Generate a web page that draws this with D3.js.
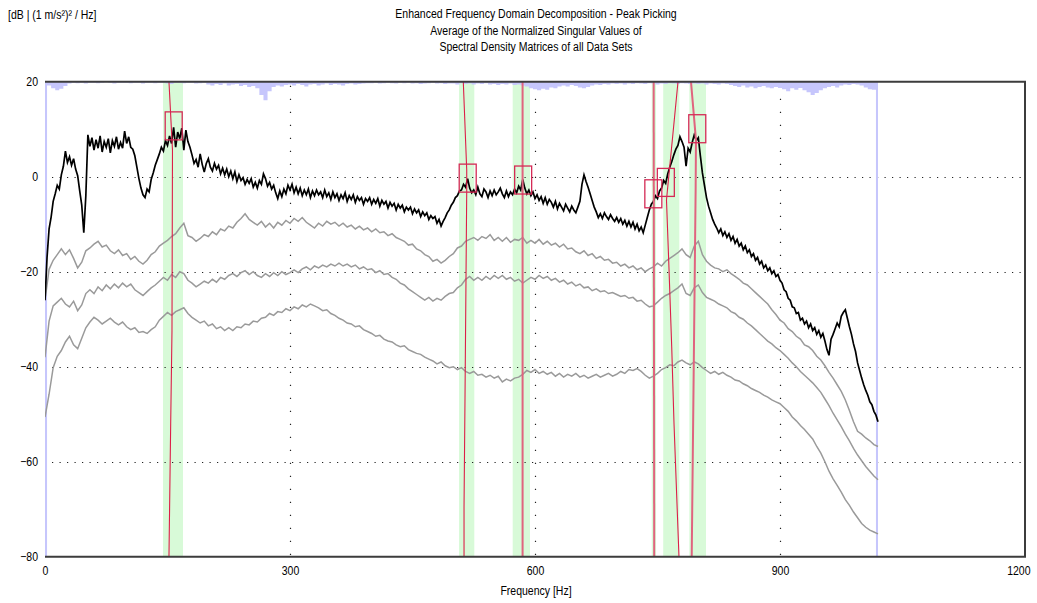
<!DOCTYPE html>
<html>
<head>
<meta charset="utf-8">
<script src="https://cdn.jsdelivr.net/npm/d3@7"></script>
<style>
  html, body { margin: 0; padding: 0; background: #fff; }
  svg { display: block; font-family: "Liberation Sans", Arial, sans-serif; }
</style>
</head>
<body>
<svg id="chart" width="1037" height="603"></svg>
<script>
// ---------------------------------------------------------------------------
// Data
// ---------------------------------------------------------------------------
const titleLines = [
  "Enhanced Frequency Domain Decomposition - Peak Picking",
  "Average of the Normalized Singular Values of",
  "Spectral Density Matrices of all Data Sets"
];
const yUnitLabel = "[dB | (1 m/s\u00B2)\u00B2 / Hz]";
const xAxisLabel = "Frequency [Hz]";

const yTicks = [20, 0, -20, -40, -60, -80];
const xTicks = [0, 300, 600, 900, 1200];

// frequency resolution of the series, starting at 0 Hz
const SV1_STEP = 2.5;   // 1st singular value
const SV_STEP = 5;      // lower singular values and coherence

// 1st singular value [dB]
const sv1 = [
  -26, -17, -11, -8.5, -5.2, -3.6, -1.8, -2.6, 0.4, 2.2, 5.4, 3.0, 4.2, 2.4, 3.8, 1.6, 0.2, -3.0, -6.0, -11.8,
  -4.0, 8.8, 6.4, 8.2, 5.6, 7.8, 6.0, 8.6, 5.2, 7.4, 6.2, 8.0, 5.0, 7.6, 6.4, 8.4, 5.8, 7.2, 6.0, 9.6,
  7.0, 8.4, 6.2, 5.8, 4.4, 2.0, -0.4, -2.4, -3.8, -4.4, -2.6, -3.2, -0.6, 0.8, 2.4, 3.6, 4.8, 6.2, 5.4, 7.6,
  6.6, 8.6, 7.0, 10.4, 6.2, 9.4, 8.0, 10.2, 5.6, 9.8, 7.4, 6.2, 4.6, 2.8, 3.6, 2.0, 4.8, 2.6, 1.0, 2.8,
  3.8, 2.0, 1.2, 2.8, 1.6, 2.4, 0.6, 1.8, 0.4, 1.6, 0.0, 1.2, -0.4, 1.0, -1.0, 0.4, -0.8, -0.2, -1.6, -0.6,
  -1.4, -0.4, -2.2, -1.2, -2.4, -0.8, -1.6, 0.6, -0.4, -2.0, -1.2, -2.6, -1.8, -3.4, -4.6, -3.0, -4.2, -2.6, -3.6, -1.8,
  -2.8, -1.6, -3.4, -2.2, -3.6, -2.4, -4.0, -2.8, -3.8, -2.6, -4.4, -3.0, -4.0, -2.8, -3.8, -3.2, -4.4, -2.8, -4.2, -3.4,
  -4.8, -3.2, -4.4, -3.6, -5.0, -3.8, -4.6, -3.4, -5.2, -4.0, -4.8, -3.8, -5.4, -4.2, -5.0, -4.4, -5.8, -4.6, -5.2, -4.4,
  -5.8, -4.8, -5.6, -4.6, -6.2, -5.0, -5.8, -5.2, -6.6, -5.4, -6.2, -5.6, -7.0, -5.8, -6.6, -6.0, -7.4, -6.4, -7.0, -6.4,
  -7.8, -6.8, -7.6, -7.0, -8.4, -7.4, -8.2, -7.6, -9.0, -8.2, -8.8, -8.4, -9.8, -9.0, -10.4, -9.4, -8.6, -7.6, -7.0, -6.0,
  -5.4, -4.4, -4.0, -3.0, -2.8, -1.6, -2.2, -0.4, -2.4, -3.4, -2.8, -3.8, -2.2, -3.6, -4.2, -2.6, -3.2, -4.4, -3.0, -4.0,
  -2.8, -3.8, -3.2, -2.4, -3.6, -4.4, -3.0, -4.2, -3.2, -3.8, -2.6, -3.4, -2.0, -2.8, -0.6, -2.4, -3.6, -2.8, -4.0, -3.2,
  -4.6, -3.8, -5.0, -4.2, -5.6, -4.4, -5.8, -4.8, -5.4, -6.4, -5.2, -6.8, -5.6, -6.4, -7.2, -5.8, -6.6, -7.4, -6.2, -7.0,
  -7.6, -6.4, -5.2, -1.6, 0.4, -1.0, -2.2, -3.6, -5.0, -6.4, -7.4, -8.6, -7.8, -8.8, -7.6, -8.4, -9.0, -8.0, -8.8, -9.4,
  -8.6, -9.6, -8.8, -10.0, -9.2, -10.4, -9.4, -10.6, -9.6, -11.0, -10.0, -11.4, -10.6, -11.8, -10.2, -8.6, -7.0, -5.8, -5.2, -4.0,
  -4.6, -3.0, -2.4, -0.8, -1.4, 0.6, 2.0, 3.2, 4.6, 5.8, 6.6, 8.4, 7.4, 6.2, 2.2, 6.0, 5.2, 7.2, 8.8, 7.6,
  8.2, 4.4, 0.8, -1.8, -4.4, -6.2, -7.6, -9.0, -10.0, -10.8, -11.8, -11.0, -12.4, -11.6, -12.8, -12.0, -13.4, -12.6, -14.0, -13.2,
  -14.6, -14.0, -15.4, -14.6, -16.0, -15.4, -16.8, -16.2, -17.6, -17.0, -18.4, -17.8, -19.2, -18.6, -19.8, -19.2, -20.4, -19.8, -21.0, -20.6,
  -21.8, -22.4, -23.8, -24.2, -25.6, -26.0, -27.4, -27.6, -28.8, -28.6, -30.2, -29.8, -31.0, -30.4, -31.8, -31.0, -32.4, -31.8, -33.2, -32.4,
  -33.8, -33.0, -34.6, -36.4, -37.6, -34.2, -33.2, -32.0, -30.8, -31.6, -29.4, -28.6, -28.0, -29.8, -31.6, -33.2, -35.2, -36.8, -39.2, -40.8,
  -42.4, -43.8, -45.0, -46.0, -47.4, -48.0, -49.4, -50.2, -51.6
];

// 2nd singular value [dB]
const sv2 = [
  -26, -19.5, -17.6, -16.4, -15.2, -16.4, -15.4, -17.2, -19.2, -18.0, -15.6, -15.0, -14.2, -13.6, -14.8, -14.4, -15.6, -16.2, -15.4, -16.6,
  -16.2, -17.4, -16.8, -17.8, -18.4, -17.6, -16.4, -15.8, -14.6, -14.0, -13.4, -12.6, -12.0, -10.8, -9.8, -12.4, -12.8, -13.6, -13.0, -12.2,
  -12.6, -11.6, -12.2, -11.0, -11.4, -10.4, -10.8, -9.6, -8.8, -7.8, -9.0, -9.6, -10.2, -9.4, -10.6, -9.8, -10.8, -9.6, -10.2, -9.2,
  -9.8, -8.8, -9.4, -8.6, -9.6, -10.2, -10.8, -9.8, -10.4, -9.4, -10.0, -9.6, -10.4, -9.8, -10.6, -10.2, -11.0, -10.4, -11.2, -10.8,
  -11.6, -11.0, -11.8, -11.6, -12.4, -12.0, -12.8, -13.2, -13.6, -14.4, -14.2, -15.2, -15.6, -16.4, -16.8, -17.8, -17.4, -18.2, -17.6, -16.8,
  -16.2, -15.0, -14.6, -13.6, -13.2, -12.8, -13.4, -12.6, -13.0, -12.2, -13.4, -12.8, -13.6, -12.8, -13.8, -13.2, -13.4, -12.8, -14.0, -13.4,
  -14.0, -13.2, -14.2, -13.6, -14.4, -14.0, -14.8, -14.2, -15.2, -15.0, -15.8, -16.2, -15.6, -16.6, -16.2, -17.2, -16.8, -17.6, -17.4, -18.2,
  -18.0, -18.8, -18.4, -19.2, -18.8, -19.6, -19.2, -20.0, -19.4, -19.0, -18.2, -18.8, -17.8, -17.2, -16.6, -16.0, -15.2, -16.4, -17.0, -14.6,
  -13.6, -16.4, -17.8, -18.6, -19.2, -19.4, -20.0, -19.6, -20.4, -21.0, -21.6, -22.4, -22.8, -23.6, -24.4, -25.2, -26.0, -26.8, -28.0, -29.0,
  -30.2, -30.8, -32.0, -32.6, -33.6, -34.2, -35.4, -35.8, -36.6, -37.8, -38.6, -39.8, -41.2, -42.4, -43.8, -45.2, -47.0, -49.2, -51.6, -53.6,
  -54.2, -55.0, -55.6, -56.4, -56.8
];

// 3rd singular value [dB]
const sv3 = [
  -38.0, -30.4, -27.2, -26.4, -25.6, -26.8, -27.4, -26.2, -28.2, -27.0, -24.6, -23.8, -24.6, -23.2, -24.0, -22.8, -23.6, -22.6, -23.4, -22.4,
  -23.2, -22.6, -23.8, -24.4, -25.0, -24.2, -23.4, -22.8, -22.0, -21.2, -21.8, -20.6, -21.2, -20.0, -20.4, -21.8, -22.4, -23.2, -22.6, -22.0,
  -22.4, -21.6, -22.2, -21.2, -21.6, -20.8, -20.4, -21.0, -20.2, -19.8, -20.6, -20.0, -20.8, -21.2, -20.4, -21.0, -20.2, -20.8, -20.0, -20.6,
  -20.2, -19.6, -20.2, -19.4, -19.0, -19.6, -18.8, -19.2, -18.6, -19.0, -18.4, -18.8, -18.2, -18.8, -18.4, -19.0, -18.6, -19.4, -19.0, -19.6,
  -19.4, -20.2, -19.8, -20.6, -20.4, -21.2, -21.6, -22.4, -22.8, -23.6, -24.2, -24.8, -25.4, -26.0, -25.4, -26.2, -25.6, -26.0, -25.2, -24.6,
  -24.4, -23.4, -22.8, -21.6, -21.0, -21.8, -21.2, -21.8, -21.0, -21.6, -20.8, -21.4, -20.8, -21.6, -21.2, -22.0, -21.6, -22.4, -21.8, -21.2,
  -21.6, -20.8, -21.4, -21.0, -21.8, -21.4, -22.2, -21.8, -22.6, -22.2, -23.0, -22.6, -23.4, -23.2, -24.0, -23.6, -24.2, -24.0, -24.6, -24.4,
  -24.8, -25.2, -25.0, -25.6, -25.4, -26.2, -26.0, -26.8, -27.4, -27.2, -26.4, -25.6, -25.0, -24.6, -24.0, -23.4, -22.6, -24.6, -25.0, -23.4,
  -22.8, -24.4, -25.4, -25.8, -26.2, -26.8, -27.2, -27.6, -28.4, -28.8, -29.6, -30.0, -30.8, -31.4, -32.2, -33.0, -33.8, -34.6, -35.2, -36.0,
  -36.6, -37.4, -38.2, -39.2, -40.0, -41.0, -41.8, -42.6, -43.4, -44.4, -45.4, -46.8, -48.2, -49.8, -51.2, -52.6, -54.2, -55.6, -57.2, -58.6,
  -59.8, -61.0, -62.0, -63.0, -63.8
];

// 4th singular value [dB]
const sv4 = [
  -50.6, -45.8, -40.2, -37.8, -36.6, -34.8, -33.6, -35.4, -36.2, -34.0, -31.8, -30.6, -29.6, -30.2, -31.0, -30.4, -29.8, -30.6, -31.2, -30.6,
  -31.6, -32.2, -31.8, -32.8, -32.6, -33.0, -32.2, -31.6, -30.2, -29.4, -28.6, -29.2, -28.4, -28.0, -27.6, -28.8, -29.6, -30.2, -30.8, -30.4,
  -31.4, -31.0, -32.0, -31.6, -32.4, -31.8, -32.4, -31.6, -31.8, -31.0, -31.2, -30.4, -30.6, -29.8, -29.6, -28.8, -29.2, -28.4, -28.6, -27.8,
  -28.2, -27.4, -27.8, -27.0, -27.4, -26.8, -27.2, -27.6, -28.2, -28.0, -28.8, -29.2, -29.8, -30.2, -30.8, -31.0, -31.6, -31.4, -32.2, -32.6,
  -33.0, -33.6, -33.4, -34.2, -34.6, -34.8, -35.4, -35.8, -35.6, -36.4, -36.8, -37.2, -37.4, -38.0, -38.4, -38.8, -39.4, -39.0, -39.8, -40.2,
  -40.0, -40.6, -40.2, -41.0, -41.4, -41.0, -41.8, -41.6, -42.2, -41.8, -42.4, -42.0, -43.2, -42.6, -43.0, -42.4, -42.2, -41.6, -40.8, -41.2,
  -40.6, -41.4, -41.0, -41.6, -41.2, -42.0, -41.4, -42.2, -41.6, -42.0, -41.4, -42.2, -41.8, -42.4, -42.0, -41.6, -42.2, -41.8, -41.4, -42.0,
  -41.6, -41.0, -41.4, -40.6, -40.8, -40.4, -41.0, -41.8, -42.4, -42.0, -41.4, -40.6, -40.2, -39.6, -39.8, -39.0, -38.6, -39.2, -39.6, -39.0,
  -39.4, -40.2, -40.8, -41.4, -41.0, -41.6, -41.2, -41.8, -42.2, -42.8, -43.0, -43.6, -44.0, -44.6, -45.0, -45.4, -46.0, -46.4, -47.0, -47.4,
  -47.8, -48.6, -49.4, -50.6, -51.4, -52.4, -53.2, -54.2, -55.2, -56.8, -58.2, -60.0, -62.0, -63.6, -65.0, -66.4, -68.0, -69.2, -70.6, -71.8,
  -73.0, -73.8, -74.4, -74.8, -75.2
];

// coherence indicator shown as the shaded strip hanging from the top edge [dB]
const coherence = [
  -80, 19.2, 18.6, 18.2, 18.5, 19.1, 19.6, 19.8, 19.7, 19.8, 19.6, 19.8, 19.8, 19.7, 19.8, 19.9, 19.8, 19.6, 19.8, 19.8,
  19.8, 19.7, 19.8, 19.8, 19.6, 19.8, 19.8, 19.7, 19.8, 19.8, 19.6, 19.5, 19.8, 19.8, 19.7, 19.8, 19.8, 19.6, 19.7, 19.8,
  19.4, 19.2, 19.5, 19.3, 19.6, 19.2, 19.4, 19.5, 19.1, 19.3, 18.9, 19.1, 18.6, 17.2, 16.1, 18.0, 18.9, 19.2, 19.0, 19.3,
  19.4, 19.2, 19.5, 19.3, 19.0, 19.4, 19.5, 19.2, 19.4, 19.6, 19.3, 19.5, 19.4, 19.2, 19.5, 19.6, 19.4, 19.5, 19.6, 19.7,
  19.7, 19.8, 19.6, 19.7, 19.8, 19.7, 19.6, 19.8, 19.7, 19.8, 19.6, 19.7, 19.5, 19.6, 19.7, 19.8, 19.6, 19.7, 19.5, 19.6,
  19.6, 19.4, 19.7, 19.5, 19.6, 19.4, 19.6, 19.5, 19.7, 19.4, 19.5, 19.3, 19.5, 19.4, 19.6, 19.3, 19.4, 19.2, 19.0, 18.6,
  18.4, 18.2, 18.5, 18.3, 18.8, 18.6, 19.0, 19.2, 19.0, 19.3, 19.1, 18.8, 18.6, 18.9, 19.2, 19.4, 19.3, 19.5, 19.4, 19.6,
  19.5, 19.6, 19.4, 19.6, 19.5, 19.7, 19.6, 19.5, 19.7, 19.6, 19.4, 19.6, 19.5, 19.7, 19.6, 19.5, 19.7, 19.6, 19.5, 19.6,
  19.5, 19.6, 19.4, 19.6, 19.5, 19.4, 19.6, 19.5, 19.3, 19.1, 18.9, 19.2, 18.8, 19.0, 18.6, 18.9, 19.1, 18.8, 18.6, 18.9,
  18.7, 18.4, 18.0, 18.6, 18.3, 18.7, 18.2, 17.8, 17.2, 17.6, 18.2, 18.6, 18.9, 19.1, 18.8, 19.2, 19.4, 19.3, 19.5, 19.4,
  19.2, 18.8, 18.4, 18.3, -80
];

// frequency bands used for each picked mode [Hz]
const bandStart = [144.5, 507, 572.7, 743, 757, 789];
const bandEnd   = [169, 525.7, 593.9, 748.2, 776.7, 809.4];

// picked peaks
const peakFreq = [157.6, 517.6, 585.5, 744.9, 760.2, 798.7];
const peakDb   = [10.7, -0.3, -0.7, -3.6, -1.2, 10.1];

// identified mode traces, [Hz, dB] pairs
const modeTraces = [
  [[151.8, 20], [156.1, 5.6], [155.5, -32.4], [153.9, -52], [151.8, -80]],
  [[512.2, 20], [516.4, 1.4], [516.4, -2.8], [514.3, -46.4], [513.1, -69.5], [513.1, -80]],
  [[584.8, 20], [584.8, -80]],
  [[745.3, 20], [746.0, -80]],
  [[775.1, 20], [761.0, -4.9], [764.0, -19], [767.4, -35.8], [770.2, -51.9], [776.3, -80]],
  [[791.0, 20], [797.1, 7.7], [796.7, -2.8], [791.9, -80]]
];

// ---------------------------------------------------------------------------
// Drawing
// ---------------------------------------------------------------------------
const svg = d3.select("#chart");
const plot = { left: 45, right: 1025, top: 81.7, bottom: 556.7 };
const FONT_SIZE = 12.5;
const NARROW = 0.84;   // horizontal squeeze applied to all labels

const x = d3.scaleLinear().domain([0, 1200]).range([plot.left, plot.right]);
const y = d3.scaleLinear().domain([-80, 20]).range([plot.bottom, plot.top]);

// squeeze text horizontally to get a condensed face
function condense(sel) {
  sel.each(function () {
    const w = this.getComputedTextLength();
    d3.select(this).attr("textLength", w * NARROW).attr("lengthAdjust", "spacingAndGlyphs");
  });
}

// title and axis captions
svg.append("g").selectAll("text").data(titleLines).join("text")
  .attr("x", 536).attr("y", (d, i) => 18 + i * 16.5)
  .attr("text-anchor", "middle").attr("font-size", FONT_SIZE).attr("fill", "#000")
  .text(d => d)
  .call(condense);

svg.append("text").attr("x", 8).attr("y", 19)
  .attr("font-size", FONT_SIZE).attr("fill", "#000").text(yUnitLabel)
  .call(condense);

svg.append("text").attr("x", 536).attr("y", 595)
  .attr("text-anchor", "middle").attr("font-size", FONT_SIZE).attr("fill", "#000").text(xAxisLabel)
  .call(condense);

// clip to plot area
svg.append("defs").append("clipPath").attr("id", "plotClip")
  .append("rect").attr("x", plot.left).attr("y", plot.top)
  .attr("width", plot.right - plot.left).attr("height", plot.bottom - plot.top);

const g = svg.append("g").attr("clip-path", "url(#plotClip)");

// mode frequency bands
g.append("g").selectAll("rect").data(bandStart).join("rect")
  .attr("x", d => x(d))
  .attr("width", (d, i) => x(bandEnd[i]) - x(d))
  .attr("y", plot.top).attr("height", plot.bottom - plot.top)
  .attr("fill", "#d8fad8");

// dotted grid
const grid = g.append("g").attr("stroke", "#222").attr("stroke-width", 1.2);
grid.selectAll("line.h").data(yTicks.filter(t => t > -80 && t < 20)).join("line")
  .attr("class", "h")
  .attr("x1", plot.left + 7).attr("x2", plot.right)
  .attr("y1", d => Math.round(y(d)) + 0.5).attr("y2", d => Math.round(y(d)) + 0.5)
  .attr("stroke-dasharray", "1.2 6.3");
grid.selectAll("line.v").data(xTicks.filter(t => t > 0 && t < 1200)).join("line")
  .attr("class", "v")
  .attr("x1", d => Math.round(x(d)) + 0.5).attr("x2", d => Math.round(x(d)) + 0.5)
  .attr("y1", plot.top + 4).attr("y2", plot.bottom)
  .attr("stroke-dasharray", "1.2 11.8");

// coherence strip
const coherenceArea = d3.area()
  .curve(d3.curveStep)
  .x((d, i) => x(i * SV_STEP))
  .y0(y(20))
  .y1(d => y(d));
g.append("path").datum(coherence)
  .attr("d", coherenceArea)
  .attr("fill", "#c6c6fc");

// singular value curves
const svLine = step => d3.line()
  .x((d, i) => x(i * step))
  .y(d => y(d));

[sv4, sv3, sv2].forEach(series => {
  g.append("path").datum(series)
    .attr("d", svLine(SV_STEP))
    .attr("fill", "none")
    .attr("stroke", "#9a9a9a")
    .attr("stroke-width", 1.5)
    .attr("stroke-linejoin", "miter");
});
g.append("path").datum(sv1)
  .attr("d", svLine(SV1_STEP))
  .attr("fill", "none")
  .attr("stroke", "#000")
  .attr("stroke-width", 1.7)
  .attr("stroke-linejoin", "miter");

// mode traces
const traceLine = d3.line().x(d => x(d[0])).y(d => y(d[1]));
const wideTrace = new Set([2, 3, 5]);
g.append("g").selectAll("path").data(modeTraces).join("path")
  .attr("d", traceLine)
  .attr("fill", "none")
  .attr("stroke", (d, i) => wideTrace.has(i) ? "#e0647e" : "#dc1f48")
  .attr("stroke-width", (d, i) => wideTrace.has(i) ? 2 : 1.1);

// peak markers
const boxW = 17, boxH = 28;
g.append("g").selectAll("rect").data(peakFreq).join("rect")
  .attr("x", d => x(d) - boxW / 2)
  .attr("y", (d, i) => y(peakDb[i]) - boxH / 2)
  .attr("width", boxW).attr("height", boxH)
  .attr("fill", "none")
  .attr("stroke", "#d42a55")
  .attr("stroke-width", 1.3);

// frame (left edge is covered by the coherence strip)
svg.append("path")
  .attr("d", `M${plot.left},${plot.top} H${plot.right} V${plot.bottom} H${plot.left}`)
  .attr("stroke", "#3c3c3c").attr("stroke-width", 2).attr("fill", "none");

// axes
const yAxis = svg.append("g")
  .attr("transform", `translate(${plot.left},0)`)
  .call(d3.axisLeft(y).tickValues(yTicks).tickSize(0).tickPadding(7).tickFormat(d3.format("d")));
yAxis.select(".domain").remove();
yAxis.selectAll("text").attr("font-size", FONT_SIZE).attr("fill", "#000")
  .attr("font-family", "\"Liberation Sans\", Arial, sans-serif")
  .call(condense);

const xAxis = svg.append("g")
  .attr("transform", `translate(0,${plot.bottom})`)
  .call(d3.axisBottom(x).tickValues(xTicks).tickSize(0).tickPadding(9).tickFormat(d3.format("d")));
xAxis.select(".domain").remove();
xAxis.selectAll("text").attr("font-size", FONT_SIZE).attr("fill", "#000")
  .attr("font-family", "\"Liberation Sans\", Arial, sans-serif")
  .call(condense);
// keep the last frequency label inside the page
xAxis.selectAll(".tick").filter(d => d === xTicks[xTicks.length - 1]).select("text")
  .attr("text-anchor", "end").attr("x", 5);
</script>
</body>
</html>
